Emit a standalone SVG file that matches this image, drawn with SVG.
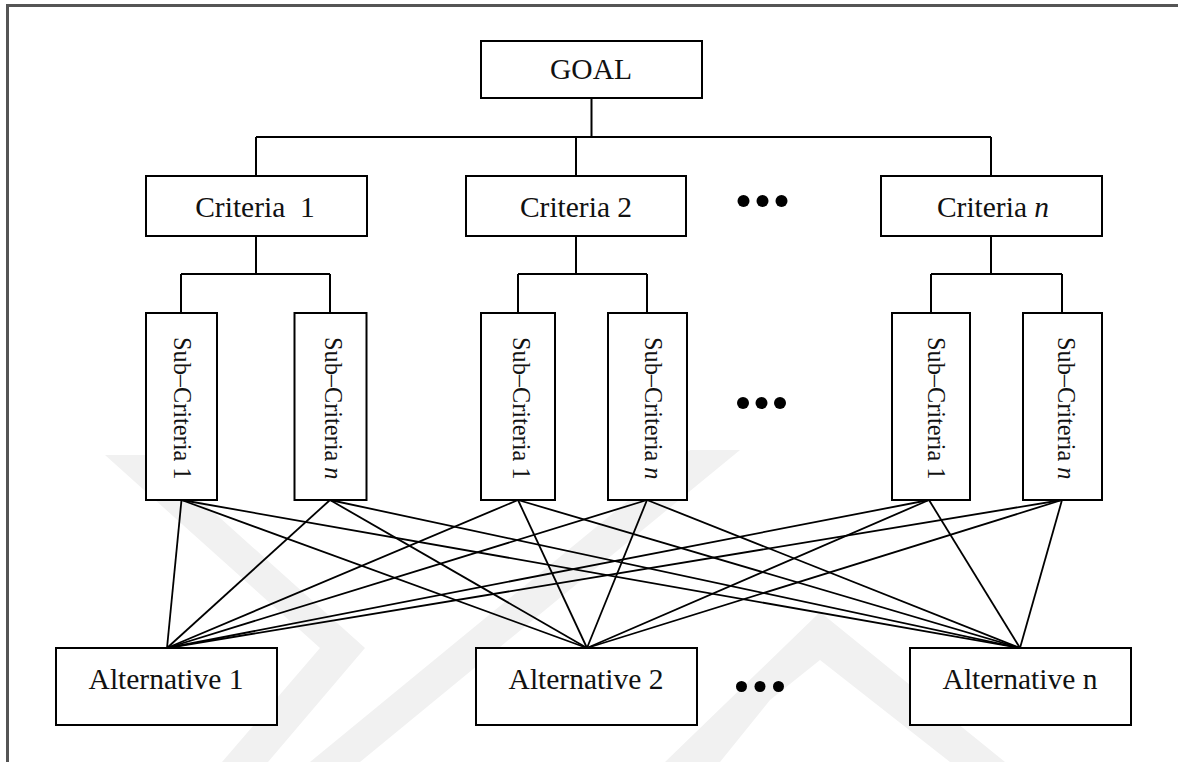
<svg xmlns="http://www.w3.org/2000/svg" width="1178" height="762" viewBox="0 0 1178 762">
<style>
.box{fill:#fff;stroke:#000;stroke-width:2}
.lbl{font-family:"Liberation Serif","Times New Roman",serif;font-size:29.5px;fill:#111;text-anchor:middle}
.sub{font-family:"Liberation Serif","Times New Roman",serif;font-size:24.3px;fill:#111}
.con{fill:none;stroke:#000;stroke-width:2}
.dia{stroke:#000;stroke-width:1.8}
.dot{fill:#000}
.wm{fill:#f1f1f1}
</style>
<rect width="1178" height="762" fill="#fff"/>
<g id="watermark">
<polygon class="wm" points="105,455 150,455 365,648 268,762 222,762 320,648"/>
<polygon class="wm" points="310,762 360,762 740,450 690,450"/>
<polygon class="wm" points="820,612 1005,762 950,762 820,660 770,700 720,762 665,762"/>
</g>
<path d="M7.5,762 V5.5 H1178" fill="none" stroke="#555" stroke-width="3"/>
<g id="connectors">
<path class="con" d="M591.5,98 V137 M256,137 H991 M256,137 V176 M576,137 V176 M991,137 V176"/>
<path class="con" d="M256,236 V274 M181,274 H330 M181,274 V313 M330,274 V313"/>
<path class="con" d="M576,236 V274 M518,274 H647 M518,274 V313 M647,274 V313"/>
<path class="con" d="M991,236 V274 M931,274 H1062 M931,274 V313 M1062,274 V313"/>
<g class="dia">
<line x1="181.5" y1="500" x2="167" y2="648"/><line x1="181.5" y1="500" x2="587" y2="648"/><line x1="181.5" y1="500" x2="1020" y2="648"/>
<line x1="330" y1="500" x2="167" y2="648"/><line x1="330" y1="500" x2="587" y2="648"/><line x1="330" y1="500" x2="1020" y2="648"/>
<line x1="518" y1="500" x2="167" y2="648"/><line x1="518" y1="500" x2="587" y2="648"/><line x1="518" y1="500" x2="1020" y2="648"/>
<line x1="647" y1="500" x2="167" y2="648"/><line x1="647" y1="500" x2="587" y2="648"/><line x1="647" y1="500" x2="1020" y2="648"/>
<line x1="929" y1="500" x2="167" y2="648"/><line x1="929" y1="500" x2="587" y2="648"/><line x1="929" y1="500" x2="1020" y2="648"/>
<line x1="1062" y1="500" x2="167" y2="648"/><line x1="1062" y1="500" x2="587" y2="648"/><line x1="1062" y1="500" x2="1020" y2="648"/>
</g>
</g>
<g id="goal"><rect class="box" x="481" y="41" width="221" height="57"/><text class="lbl" x="591" y="79">GOAL</text></g>
<g id="crit1"><rect class="box" x="146" y="176" width="221" height="60"/><text class="lbl" x="255" y="216.5" xml:space="preserve">Criteria  1</text></g>
<g id="crit2"><rect class="box" x="466" y="176" width="220" height="60"/><text class="lbl" x="576" y="216.5">Criteria 2</text></g>
<g id="critn"><rect class="box" x="881" y="176" width="221" height="60"/><text class="lbl" x="993" y="216.5">Criteria <tspan font-style="italic">n</tspan></text></g>
<g id="dots-criteria" class="dot"><circle cx="743.5" cy="201" r="6"/><circle cx="762.5" cy="201" r="6"/><circle cx="781.5" cy="201" r="6"/></g>
<g id="sub1-1"><rect class="box" x="146" y="313" width="71" height="187"/><text class="sub" transform="translate(174,337) rotate(90)">Sub–Criteria 1</text></g>
<g id="sub1-n"><rect class="box" x="294.5" y="313" width="72" height="187"/><text class="sub" transform="translate(325,337) rotate(90)">Sub–Criteria <tspan font-style="italic">n</tspan></text></g>
<g id="sub2-1"><rect class="box" x="481" y="313" width="74" height="187"/><text class="sub" transform="translate(513,337) rotate(90)">Sub–Criteria 1</text></g>
<g id="sub2-n"><rect class="box" x="608" y="313" width="79" height="187"/><text class="sub" transform="translate(645,337) rotate(90)">Sub–Criteria <tspan font-style="italic">n</tspan></text></g>
<g id="dots-sub" class="dot"><circle cx="743" cy="403" r="6"/><circle cx="761.5" cy="403" r="6"/><circle cx="780" cy="403" r="6"/></g>
<g id="sub3-1"><rect class="box" x="892" y="313" width="78" height="187"/><text class="sub" transform="translate(928,337) rotate(90)">Sub–Criteria 1</text></g>
<g id="sub3-n"><rect class="box" x="1023" y="313" width="79" height="187"/><text class="sub" transform="translate(1058,337) rotate(90)">Sub–Criteria <tspan font-style="italic">n</tspan></text></g>
<g id="alt1"><rect class="box" x="56" y="648" width="221" height="77"/><text class="lbl" x="166" y="689">Alternative 1</text></g>
<g id="alt2"><rect class="box" x="476" y="648" width="221" height="77"/><text class="lbl" x="586" y="689">Alternative 2</text></g>
<g id="dots-alt" class="dot"><circle cx="741.5" cy="686.5" r="5.5"/><circle cx="760" cy="686.5" r="5.5"/><circle cx="778.5" cy="686.5" r="5.5"/></g>
<g id="altn"><rect class="box" x="910" y="648" width="221" height="77"/><text class="lbl" x="1020" y="689">Alternative n</text></g>
</svg>
